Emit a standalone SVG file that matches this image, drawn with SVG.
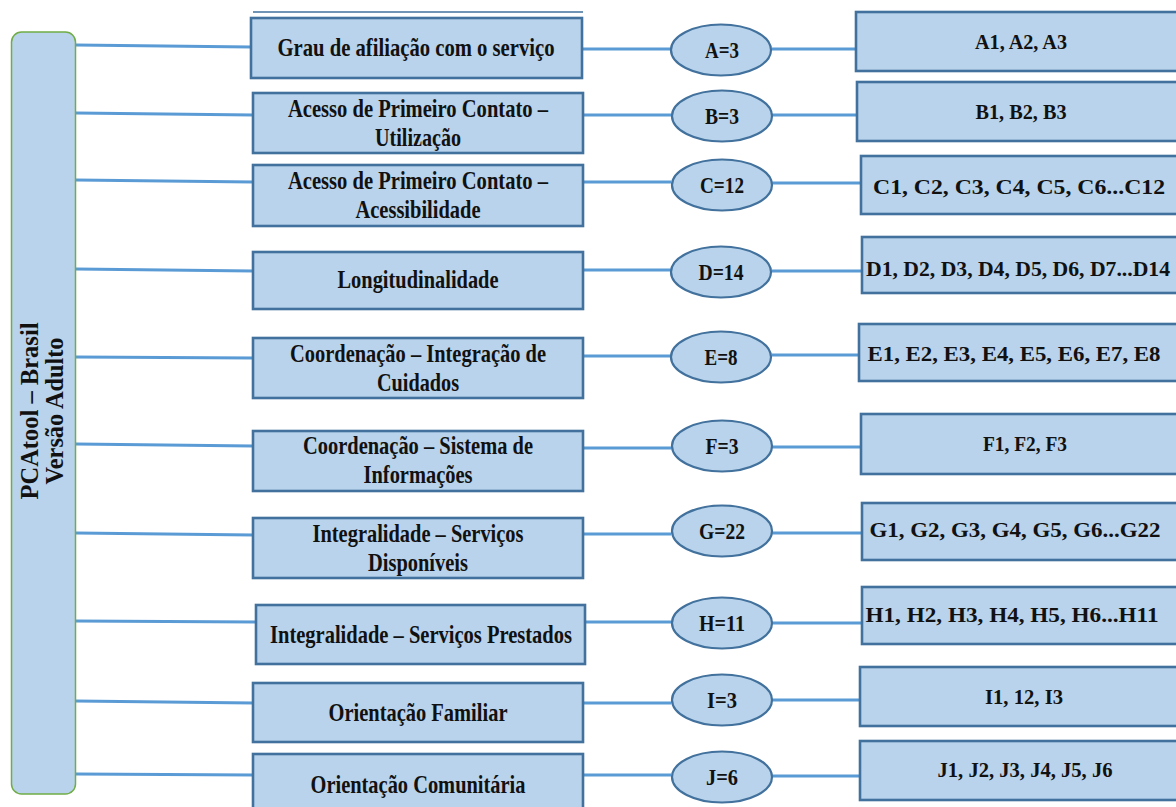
<svg xmlns="http://www.w3.org/2000/svg" width="1176" height="807" viewBox="0 0 1176 807">
<style>
.box{fill:#b8d3eb;stroke:#41719c;stroke-width:2.6}
.ell{fill:#b8d3eb;stroke:#41719c;stroke-width:2.2}
.root{fill:#b8d3eb;stroke:#70ad47;stroke-width:1.5}
.t{font-family:"Liberation Serif","Times New Roman",serif;font-weight:bold;fill:#111;text-anchor:middle}
.m{font-size:25px}
.e{font-size:24px}
.r{font-size:22px}
.c line{stroke:#5b9bd5;stroke-width:2.8}
</style>
<rect width="1176" height="807" fill="#ffffff"/>
<line x1="253" y1="12" x2="583" y2="12" stroke="#41719c" stroke-width="1.5"/>

<g class="c" id="connectors">
<line x1="76" y1="45" x2="251" y2="47"/>
<line x1="76" y1="113" x2="253" y2="115"/>
<line x1="76" y1="180" x2="253" y2="182"/>
<line x1="76" y1="269" x2="253" y2="271"/>
<line x1="76" y1="357" x2="253" y2="358"/>
<line x1="76" y1="444" x2="253" y2="446"/>
<line x1="76" y1="533" x2="253" y2="535"/>
<line x1="76" y1="621" x2="256" y2="622"/>
<line x1="76" y1="701" x2="253" y2="703"/>
<line x1="76" y1="774" x2="253" y2="775"/>

<line x1="582" y1="49" x2="671" y2="49"/>
<line x1="583" y1="115" x2="671" y2="115"/>
<line x1="583" y1="182" x2="671" y2="182"/>
<line x1="583" y1="270" x2="671" y2="270"/>
<line x1="583" y1="356" x2="671" y2="356"/>
<line x1="583" y1="448" x2="671" y2="448"/>
<line x1="583" y1="534" x2="671" y2="534"/>
<line x1="585" y1="622" x2="671" y2="622"/>
<line x1="583" y1="703" x2="671" y2="703"/>
<line x1="583" y1="775" x2="671" y2="775"/>

<line x1="772" y1="49" x2="856" y2="49"/>
<line x1="772" y1="115" x2="857" y2="115"/>
<line x1="772" y1="183" x2="861" y2="183"/>
<line x1="772" y1="271" x2="862" y2="271"/>
<line x1="772" y1="355" x2="859" y2="355"/>
<line x1="772" y1="447" x2="861" y2="447"/>
<line x1="772" y1="533" x2="862" y2="533"/>
<line x1="772" y1="623" x2="862" y2="623"/>
<line x1="772" y1="700" x2="860" y2="700"/>
<line x1="772" y1="776" x2="860" y2="776"/>
</g>

<g id="root">
<rect class="root" x="11.5" y="32" width="64" height="762" rx="10"/>
<text class="t" font-size="25" transform="translate(38,411) rotate(-90)" x="0" y="0" textLength="177" lengthAdjust="spacingAndGlyphs">PCAtool – Brasil</text>
<text class="t" font-size="25" transform="translate(63,411) rotate(-90)" x="0" y="0" textLength="147" lengthAdjust="spacingAndGlyphs">Versão Adulto</text>
</g>

<g id="dim-a"><rect class="box" x="251" y="18" width="331" height="60"/><text class="t m" x="416" y="56" textLength="277" lengthAdjust="spacingAndGlyphs">Grau de afiliação com o serviço</text></g>
<g id="dim-b"><rect class="box" x="253" y="93" width="330" height="60"/><text class="t m" x="418" y="117" textLength="260" lengthAdjust="spacingAndGlyphs">Acesso de Primeiro Contato –</text><text class="t m" x="418" y="146" textLength="86" lengthAdjust="spacingAndGlyphs">Utilização</text></g>
<g id="dim-c"><rect class="box" x="253" y="165" width="330" height="61"/><text class="t m" x="418" y="189" textLength="260" lengthAdjust="spacingAndGlyphs">Acesso de Primeiro Contato –</text><text class="t m" x="418" y="218" textLength="125" lengthAdjust="spacingAndGlyphs">Acessibilidade</text></g>
<g id="dim-d"><rect class="box" x="253" y="252" width="330" height="57"/><text class="t m" x="418" y="288" textLength="161" lengthAdjust="spacingAndGlyphs">Longitudinalidade</text></g>
<g id="dim-e"><rect class="box" x="253" y="338" width="330" height="60"/><text class="t m" x="418" y="362" textLength="256" lengthAdjust="spacingAndGlyphs">Coordenação – Integração de</text><text class="t m" x="418" y="391" textLength="82" lengthAdjust="spacingAndGlyphs">Cuidados</text></g>
<g id="dim-f"><rect class="box" x="253" y="431" width="330" height="60"/><text class="t m" x="418" y="454" textLength="230" lengthAdjust="spacingAndGlyphs">Coordenação – Sistema de</text><text class="t m" x="418" y="483" textLength="109" lengthAdjust="spacingAndGlyphs">Informações</text></g>
<g id="dim-g"><rect class="box" x="253" y="518" width="330" height="60"/><text class="t m" x="418" y="542" textLength="211" lengthAdjust="spacingAndGlyphs">Integralidade – Serviços</text><text class="t m" x="418" y="571" textLength="100" lengthAdjust="spacingAndGlyphs">Disponíveis</text></g>
<g id="dim-h"><rect class="box" x="256" y="605" width="329" height="59"/><text class="t m" x="421" y="643" textLength="302" lengthAdjust="spacingAndGlyphs">Integralidade – Serviços Prestados</text></g>
<g id="dim-i"><rect class="box" x="253" y="683" width="330" height="59"/><text class="t m" x="418" y="721" textLength="179" lengthAdjust="spacingAndGlyphs">Orientação Familiar</text></g>
<g id="dim-j"><rect class="box" x="253" y="754" width="330" height="58"/><text class="t m" x="418" y="793" textLength="215" lengthAdjust="spacingAndGlyphs">Orientação Comunitária</text></g>

<g id="cnt-a"><ellipse class="ell" cx="721" cy="50" rx="50" ry="25.5"/><text class="t e" x="722" y="58" textLength="34" lengthAdjust="spacingAndGlyphs">A=3</text></g>
<g id="cnt-b"><ellipse class="ell" cx="722" cy="116" rx="50" ry="25.5"/><text class="t e" x="722" y="124" textLength="34" lengthAdjust="spacingAndGlyphs">B=3</text></g>
<g id="cnt-c"><ellipse class="ell" cx="722" cy="185" rx="50" ry="25.5"/><text class="t e" x="722" y="193" textLength="44" lengthAdjust="spacingAndGlyphs">C=12</text></g>
<g id="cnt-d"><ellipse class="ell" cx="721" cy="272" rx="50" ry="25.5"/><text class="t e" x="721" y="280" textLength="45" lengthAdjust="spacingAndGlyphs">D=14</text></g>
<g id="cnt-e"><ellipse class="ell" cx="721" cy="357" rx="50" ry="25.5"/><text class="t e" x="721" y="365" textLength="33" lengthAdjust="spacingAndGlyphs">E=8</text></g>
<g id="cnt-f"><ellipse class="ell" cx="722" cy="446" rx="50" ry="25.5"/><text class="t e" x="722" y="454" textLength="33" lengthAdjust="spacingAndGlyphs">F=3</text></g>
<g id="cnt-g"><ellipse class="ell" cx="722" cy="531" rx="50" ry="25.5"/><text class="t e" x="722" y="539" textLength="46" lengthAdjust="spacingAndGlyphs">G=22</text></g>
<g id="cnt-h"><ellipse class="ell" cx="722" cy="623" rx="50" ry="25.5"/><text class="t e" x="722" y="631" textLength="46" lengthAdjust="spacingAndGlyphs">H=11</text></g>
<g id="cnt-i"><ellipse class="ell" cx="722" cy="700" rx="50" ry="25.5"/><text class="t e" x="722" y="708" textLength="30" lengthAdjust="spacingAndGlyphs">I=3</text></g>
<g id="cnt-j"><ellipse class="ell" cx="722" cy="777" rx="50" ry="25.5"/><text class="t e" x="722" y="785" textLength="32" lengthAdjust="spacingAndGlyphs">J=6</text></g>

<g id="items-a"><rect class="box" x="856" y="12" width="330" height="59"/><text class="t r" x="1021" y="49" textLength="92" lengthAdjust="spacingAndGlyphs">A1, A2, A3</text></g>
<g id="items-b"><rect class="box" x="857" y="82" width="330" height="59"/><text class="t r" x="1021" y="119" textLength="91" lengthAdjust="spacingAndGlyphs">B1, B2, B3</text></g>
<g id="items-c"><rect class="box" x="861" y="156" width="330" height="58"/><text class="t r" x="1019" y="194" textLength="292" lengthAdjust="spacingAndGlyphs">C1, C2, C3, C4, C5, C6...C12</text></g>
<g id="items-d"><rect class="box" x="862" y="237" width="330" height="56"/><text class="t r" x="1018" y="276" textLength="304" lengthAdjust="spacingAndGlyphs">D1, D2, D3, D4, D5, D6, D7...D14</text></g>
<g id="items-e"><rect class="box" x="859" y="324" width="330" height="57"/><text class="t r" x="1014" y="361" textLength="293" lengthAdjust="spacingAndGlyphs">E1, E2, E3, E4, E5, E6, E7, E8</text></g>
<g id="items-f"><rect class="box" x="861" y="414" width="330" height="60"/><text class="t r" x="1025" y="451" textLength="84" lengthAdjust="spacingAndGlyphs">F1, F2, F3</text></g>
<g id="items-g"><rect class="box" x="862" y="503" width="330" height="57"/><text class="t r" x="1015" y="537" textLength="291" lengthAdjust="spacingAndGlyphs">G1, G2, G3, G4, G5, G6...G22</text></g>
<g id="items-h"><rect class="box" x="862" y="587" width="330" height="57"/><text class="t r" x="1012" y="622" textLength="293" lengthAdjust="spacingAndGlyphs">H1, H2, H3, H4, H5, H6...H11</text></g>
<g id="items-i"><rect class="box" x="860" y="667" width="330" height="59"/><text class="t r" x="1024" y="704" textLength="78" lengthAdjust="spacingAndGlyphs">I1, 12, I3</text></g>
<g id="items-j"><rect class="box" x="860" y="741" width="330" height="59"/><text class="t r" x="1025" y="777" textLength="175" lengthAdjust="spacingAndGlyphs">J1, J2, J3, J4, J5, J6</text></g>
</svg>
